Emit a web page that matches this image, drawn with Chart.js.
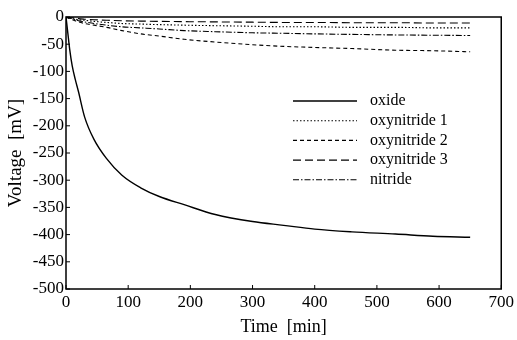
<!DOCTYPE html>
<html>
<head>
<meta charset="utf-8">
<script src="https://cdn.jsdelivr.net/npm/chart.js@4.4.1/dist/chart.umd.min.js"></script>
<style>
  html, body { margin: 0; padding: 0; background: #fff; }
  #wrap { width: 517px; height: 340px; }
</style>
</head>
<body>
<div id="wrap"><canvas id="grafico"></canvas></div>
<script>
// Dados (tempo em min, tensão em mV)
const tempo = [0, 3, 6, 10, 15, 20, 30, 45, 65, 90, 120, 150, 190, 240, 300, 350, 400, 460, 530, 590, 650];
const oxide = [0, -30, -60, -90, -115, -137, -184, -225, -260, -291, -314, -330, -345, -363, -376, -383, -390, -395, -399, -403, -405];
const oxynitride1 = [0, -1, -2, -3, -4, -5, -6, -8, -10, -12, -13, -14, -15, -16, -17, -18, -18, -19, -19, -20, -20];
const oxynitride2 = [0, -2, -3, -5, -7, -9, -12, -15, -19, -25, -31, -35, -41, -46, -51, -54, -56, -58, -61, -62, -64];
const oxynitride3 = [0, -0.5, -1, -1.5, -2, -3, -4, -5, -6, -7, -7.5, -8, -8.5, -9, -9.5, -10, -10, -10.5, -10.5, -11, -11];
const nitride = [0, -1, -2, -3, -5, -7, -9, -12, -15, -18, -20, -22, -25, -27, -29, -30, -31, -32, -33, -33.5, -34];
const ticksX = [0, 100, 200, 300, 400, 500, 600, 700];
const ticksY = [0, -50, -100, -150, -200, -250, -300, -350, -400, -450, -500];

const fonte = 'Liberation Serif, Times New Roman, serif';

function pontos(serie) {
  return tempo.map((t, i) => ({ x: t, y: serie[i] }));
}

function serie(label, valores, dash, largura) {
  return {
    label: label,
    data: pontos(valores),
    borderColor: '#000',
    backgroundColor: '#000',
    borderWidth: largura,
    borderDash: dash,
    pointRadius: 0,
    cubicInterpolationMode: 'monotone',
    fill: false
  };
}

// Moldura + pequenos traços internos nos eixos
const moldura = {
  id: 'moldura',
  afterDatasetsDraw(chart) {
    const { ctx, chartArea: a, scales } = chart;
    ctx.save();
    ctx.strokeStyle = '#000';
    ctx.lineWidth = 1.5;
    ctx.strokeRect(a.left, a.top, a.right - a.left, a.bottom - a.top);
    ctx.lineWidth = 1;
    ctx.beginPath();
    ticksY.forEach(v => {
      const y = scales.y.getPixelForValue(v);
      ctx.moveTo(a.left, y);
      ctx.lineTo(a.left + 4, y);
    });
    ticksX.forEach(v => {
      const x = scales.x.getPixelForValue(v);
      ctx.moveTo(x, a.bottom);
      ctx.lineTo(x, a.bottom - 4);
    });
    ctx.stroke();
    ctx.restore();
  }
};

// Legenda desenhada dentro da área do gráfico
const legenda = {
  id: 'legenda',
  afterDraw(chart) {
    const ctx = chart.ctx;
    ctx.save();
    ctx.font = '16px ' + fonte;
    ctx.fillStyle = '#000';
    ctx.textBaseline = 'middle';
    chart.data.datasets.forEach((ds, i) => {
      const y = 101 + i * 19.7;
      ctx.strokeStyle = '#000';
      ctx.lineWidth = ds.borderWidth;
      ctx.setLineDash(ds.borderDash || []);
      ctx.beginPath();
      ctx.moveTo(293, y);
      ctx.lineTo(357, y);
      ctx.stroke();
      ctx.setLineDash([]);
      ctx.fillText(ds.label, 370, y);
    });
    ctx.restore();
  }
};

const ctx = document.getElementById('grafico').getContext('2d');
const grafico = new Chart(ctx, {
  type: 'line',
  data: {
    datasets: [
      serie('oxide', oxide, [], 1.4),
      serie('oxynitride 1', oxynitride1, [1.5, 2], 1.1),
      serie('oxynitride 2', oxynitride2, [4, 3], 1.1),
      serie('oxynitride 3', oxynitride3, [8, 4], 1.1),
      serie('nitride', nitride, [6, 2, 1.5, 2], 1.1)
    ]
  },
  options: {
    responsive: true,
    maintainAspectRatio: false,
    animation: false,
    layout: { padding: { top: 17, right: 15, left: 0, bottom: 0 } },
    plugins: {
      legend: { display: false },
      tooltip: { enabled: false }
    },
    scales: {
      x: {
        type: 'linear',
        min: 0,
        max: 700,
        afterBuildTicks: s => { s.ticks = ticksX.map(v => ({ value: v })); },
        afterFit: s => { s.height = 51; },
        grid: { display: false, drawTicks: false },
        border: { display: false },
        ticks: { color: '#000', padding: 3, font: { family: fonte, size: 17 }, maxRotation: 0 },
        title: { display: true, text: 'Time  [min]', color: '#000', font: { family: fonte, size: 18 }, padding: { top: 0, bottom: 2 } }
      },
      y: {
        type: 'linear',
        min: -500,
        max: 0,
        afterBuildTicks: s => { s.ticks = ticksY.map(v => ({ value: v })); },
        afterFit: s => { s.width = 66; },
        grid: { display: false, drawTicks: false },
        border: { display: false },
        ticks: { color: '#000', padding: 2, font: { family: fonte, size: 17 } },
        title: { display: true, text: 'Voltage  [mV]', color: '#000', font: { family: fonte, size: 19 }, padding: { top: 5, bottom: 0 } }
      }
    }
  },
  plugins: [moldura, legenda]
});
</script>
</body>
</html>
